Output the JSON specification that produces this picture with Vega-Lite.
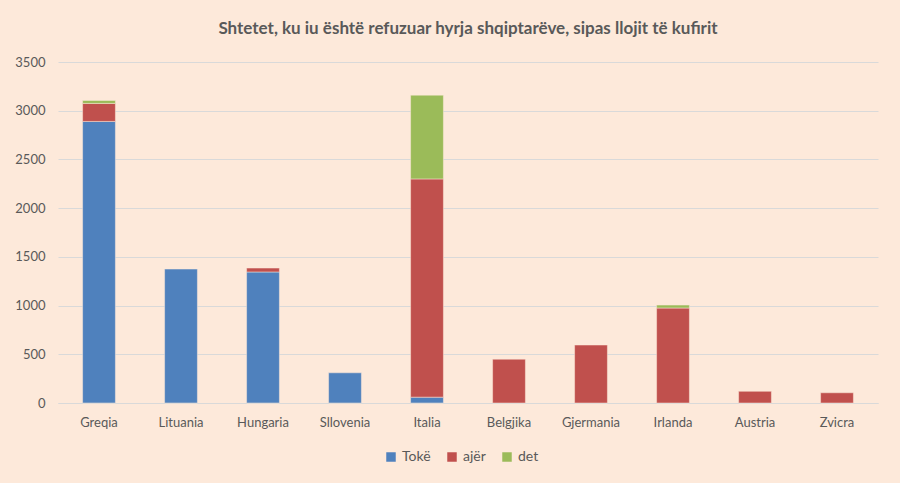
{
  "$schema": "https://vega.github.io/schema/vega-lite/v6.json",
  "autosize": {"type": "none"},
  "width": 820,
  "height": 341,
  "padding": {"left": 58, "top": 62, "right": 22, "bottom": 80},
  "background": "#FDE9DA",
  "title": {
    "text": "Shtetet, ku iu është refuzuar hyrja shqiptarëve, sipas llojit të kufirit",
    "font": "Lato",
    "fontSize": 17,
    "fontWeight": "bold",
    "color": "#595959",
    "anchor": "middle",
    "offset": 18
  },
  "data": {
    "values": [
      {"shteti": "Greqia", "lloji": "Tokë", "vlera": 2890},
      {"shteti": "Greqia", "lloji": "ajër", "vlera": 185},
      {"shteti": "Greqia", "lloji": "det", "vlera": 30},
      {"shteti": "Lituania", "lloji": "Tokë", "vlera": 1375},
      {"shteti": "Hungaria", "lloji": "Tokë", "vlera": 1345},
      {"shteti": "Hungaria", "lloji": "ajër", "vlera": 40},
      {"shteti": "Sllovenia", "lloji": "Tokë", "vlera": 310},
      {"shteti": "Italia", "lloji": "Tokë", "vlera": 60},
      {"shteti": "Italia", "lloji": "ajër", "vlera": 2240},
      {"shteti": "Italia", "lloji": "det", "vlera": 860},
      {"shteti": "Belgjika", "lloji": "ajër", "vlera": 450},
      {"shteti": "Gjermania", "lloji": "ajër", "vlera": 595},
      {"shteti": "Irlanda", "lloji": "ajër", "vlera": 975},
      {"shteti": "Irlanda", "lloji": "det", "vlera": 30},
      {"shteti": "Austria", "lloji": "ajër", "vlera": 120},
      {"shteti": "Zvicra", "lloji": "ajër", "vlera": 105}
    ]
  },
  "mark": {"type": "bar", "stroke": "#FDE9DA", "strokeWidth": 0.5},
  "encoding": {
    "x": {
      "field": "shteti",
      "type": "nominal",
      "sort": null,
      "scale": {"paddingInner": 0.6, "paddingOuter": 0.3},
      "axis": {
        "title": null,
        "labelAngle": 0,
        "labelFont": "Lato",
        "labelFontSize": 13,
        "labelColor": "#595959",
        "labelPadding": 13,
        "domainColor": "#D9D9D9",
        "ticks": false
      }
    },
    "y": {
      "field": "vlera",
      "type": "quantitative",
      "aggregate": "sum",
      "scale": {"domain": [0, 3500]},
      "axis": {
        "title": null,
        "values": [0, 500, 1000, 1500, 2000, 2500, 3000, 3500],
        "format": "d",
        "labelFont": "Lato",
        "labelFontSize": 13,
        "labelColor": "#595959",
        "labelPadding": 13,
        "domain": false,
        "ticks": false,
        "gridColor": "#D9D9D9"
      }
    },
    "color": {
      "field": "lloji",
      "type": "nominal",
      "scale": {"domain": ["Tokë", "ajër", "det"], "range": ["#4F81BD", "#C0504D", "#9BBB59"]},
      "legend": {
        "title": null,
        "orient": "none",
        "legendX": 326,
        "legendY": 388,
        "direction": "horizontal",
        "symbolType": "square",
        "symbolSize": 90,
        "symbolStrokeWidth": 0,
        "labelFont": "Lato",
        "labelFontSize": 14,
        "labelColor": "#595959",
        "columnPadding": 14
      }
    },
    "order": {"field": "lloji_order", "type": "quantitative"}
  },
  "transform": [
    {"calculate": "indexof(['Tokë','ajër','det'], datum.lloji)", "as": "lloji_order"}
  ],
  "config": {"view": {"stroke": null}}
}
